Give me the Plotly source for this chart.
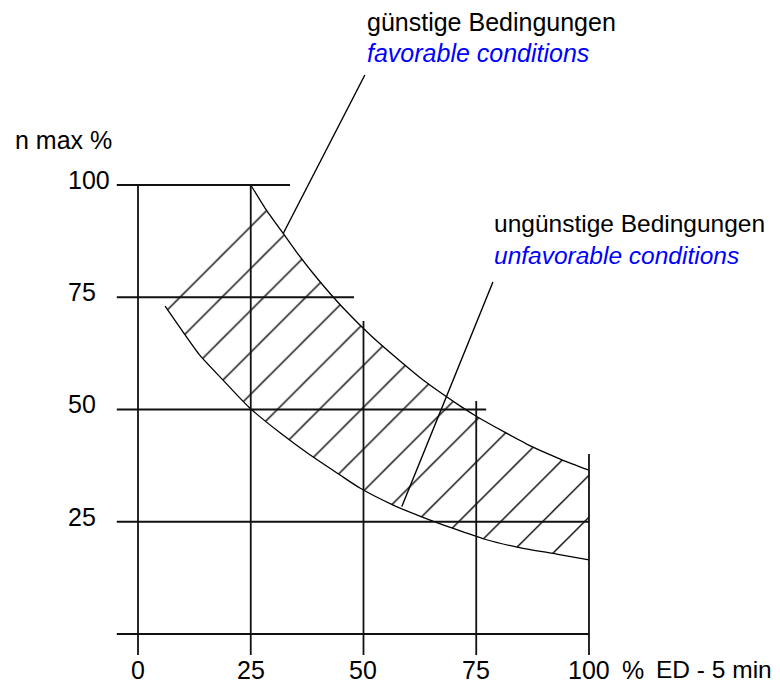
import plotly.graph_objects as go

# ---------------- data ----------------
x_ticks = [0, 25, 50, 75, 100]
x_tick_labels = ["0", "25", "50", "75", "100"]
y_ticks = [100, 75, 50, 25]
y_tick_labels = ["100", "75", "50", "25"]

# grid lines (values and extents)
h_grid_y = [100, 75, 50, 25, 0]
h_grid_x_end = [33.7, 47.9, 77.2, 100, 100]
v_grid_x = [0, 25, 50, 75, 100]
v_grid_y_top = [100, 100, 69.7, 51.9, 40.1]
grid_start = -4.7

# upper limit curve (favourable conditions)
upper_x = [25, 28.2, 32.2, 35.2, 39.9, 45.5, 51.8, 58.1, 63.3, 71.4, 75, 81.4, 87.6, 94, 100]
upper_y = [100, 94.8, 89.2, 85.0, 79.0, 72.6, 66.3, 60.8, 56.5, 50.8, 48.5, 44.9, 41.6, 38.8, 36.5]

# lower limit curve (unfavourable conditions)
lower_x = [6.0, 9.7, 13.7, 18.8, 24.6, 31.5, 38.1, 44.8, 49.2, 56.6, 62.9, 69.9, 76.9, 84.3, 92.8, 100]
lower_y = [73.0, 67.7, 62.1, 56.6, 50.5, 44.8, 39.9, 35.4, 32.5, 28.7, 26.1, 23.5, 21.1, 19.3, 17.8, 16.5]

# left closing edge of the hatched band (the first hatch line)
edge_x = [28.2, 7.1, 6.0]
edge_y = [94.8, 74.8, 73.0]

# leader lines
leader_fav_x = [50.3, 32.2]
leader_fav_y = [124.5, 89.2]
leader_unfav_x = [78.7, 58.5]
leader_unfav_y = [78.4, 28.4]

# ---------------- figure ----------------
fig = go.Figure()

# hatched band
band_x = lower_x + upper_x[::-1][:-1] + edge_x[1:]
band_y = lower_y + upper_y[::-1][:-1] + edge_y[1:]
fig.add_trace(go.Scatter(
    x=band_x, y=band_y, mode="lines", fill="toself",
    line=dict(width=0, color="rgba(0,0,0,0)"),
    fillcolor="black",
    fillpattern=dict(shape="/", size=29.65, solidity=0.047, fillmode="replace",
                     fgcolor="black", fgopacity=1, bgcolor="rgba(255,255,255,0)"),
    hoverinfo="skip", showlegend=False))

line_style = dict(color="black", width=1.3)
fig.add_trace(go.Scatter(x=upper_x, y=upper_y, mode="lines",
                         line=dict(shape="spline", smoothing=0.6, **line_style),
                         hoverinfo="skip", showlegend=False))
fig.add_trace(go.Scatter(x=lower_x, y=lower_y, mode="lines",
                         line=dict(shape="spline", smoothing=0.6, **line_style),
                         hoverinfo="skip", showlegend=False))

# leader lines
for lx, ly in [(leader_fav_x, leader_fav_y), (leader_unfav_x, leader_unfav_y)]:
    fig.add_trace(go.Scatter(x=lx, y=ly, mode="lines", line=dict(color="black", width=1.4),
                             hoverinfo="skip", showlegend=False))

# grid lines
grid_line = dict(color="#111111", width=1.8)
for yv, xe in zip(h_grid_y, h_grid_x_end):
    fig.add_shape(type="line", x0=grid_start, x1=xe, y0=yv, y1=yv, line=grid_line, layer="above")
for xv, yt in zip(v_grid_x, v_grid_y_top):
    fig.add_shape(type="line", x0=xv, x1=xv, y0=grid_start, y1=yt, line=grid_line, layer="above")

tick_font = dict(family="Liberation Sans, Arial, sans-serif", size=25, color="black")
text_font = dict(family="Liberation Sans, Arial, sans-serif", size=25, color="black")
text_font_r = dict(family="Liberation Sans, Arial, sans-serif", size=24.5, color="black")
blue_font = dict(family="Liberation Sans, Arial, sans-serif", size=25, color="#0000ff")
blue_font_r = dict(family="Liberation Sans, Arial, sans-serif", size=24.5, color="#0000ff")

# y tick labels
for yv, lab in zip(y_ticks, y_tick_labels):
    fig.add_annotation(x=-16.0, y=yv, text=lab, showarrow=False, xanchor="left", yanchor="middle",
                       yshift=5, font=tick_font)
# x tick labels
for xv, lab in zip(x_ticks, x_tick_labels):
    fig.add_annotation(x=xv, y=-8.0, text=lab, showarrow=False, xanchor="center", yanchor="middle",
                       font=tick_font)

# axis titles
fig.add_annotation(x=106.9, y=-8.0, text="%", showarrow=False, xanchor="left", yanchor="middle", font=tick_font)
fig.add_annotation(x=114.4, y=-8.0, text="ED - 5 min", showarrow=False, xanchor="left", yanchor="middle",
                   font=text_font_r)
fig.add_annotation(x=-27.7, y=110.0, text="n max %", showarrow=False, xanchor="left", yanchor="middle", font=text_font)

# condition labels
fig.add_annotation(x=50.3, y=136.4, text="günstige Bedingungen", showarrow=False,
                   xanchor="left", yanchor="middle", font=text_font)
fig.add_annotation(x=50.3, y=129.4, text="<i>favorable conditions</i>", showarrow=False,
                   xanchor="left", yanchor="middle", font=blue_font)
fig.add_annotation(x=78.5, y=91.5, text="ungünstige Bedingungen", showarrow=False,
                   xanchor="left", yanchor="middle", font=text_font_r)
fig.add_annotation(x=78.5, y=84.4, text="<i>unfavorable conditions</i>", showarrow=False,
                   xanchor="left", yanchor="middle", font=blue_font_r)

# the page body adds an 8 px offset; the ranges put data (0,0) on the same spot as in the reference
fig.update_layout(
    width=764, height=680,
    margin=dict(l=0, r=0, t=0, b=0),
    paper_bgcolor="white", plot_bgcolor="white",
    xaxis=dict(range=[-28.825, 140.58], visible=False, fixedrange=True),
    yaxis=dict(range=[-12.03, 139.42], visible=False, fixedrange=True),
    showlegend=False,
)

fig.write_html("out.html")
